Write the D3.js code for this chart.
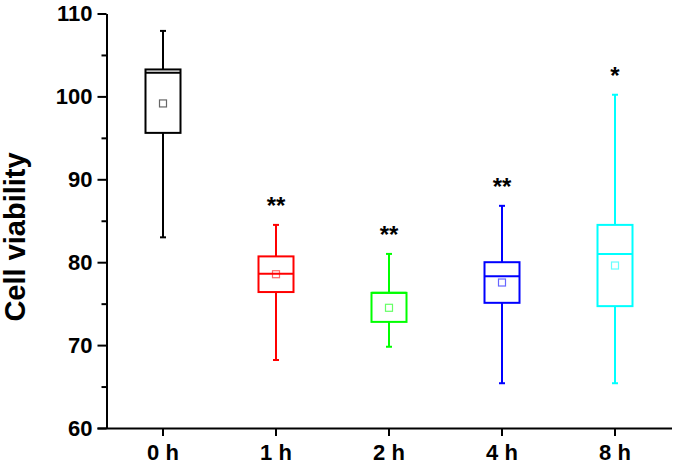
<!DOCTYPE html>
<html>
<head>
<meta charset="utf-8">
<script src="https://cdn.jsdelivr.net/npm/d3@7"></script>
<style>
  body { margin: 0; background: #fff; }
  text { font-family: "Liberation Sans", Arial, sans-serif; font-weight: bold; }
</style>
</head>
<body>
<div id="chart"></div>
<script>
// data
const groups = ['0 h', '1 h', '2 h', '4 h', '8 h'];
const whiskerLow = [83.0, 68.2, 69.8, 65.4, 65.4];
const q1 = [95.6, 76.4, 72.8, 75.1, 74.7];
const median = [102.85, 78.6, 76.3, 78.3, 81.0];
const q3 = [103.25, 80.7, 76.3, 80.0, 84.5];
const whiskerHigh = [107.9, 84.5, 81.0, 86.8, 100.2];
const means = [99.15, 78.55, 74.5, 77.55, 79.6];
const stars = ['', '**', '**', '**', '*'];
const colors = ['#000000', '#ff0000', '#00ff00', '#0000ff', '#00ffff'];
const yTicks = [60, 65, 70, 75, 80, 85, 90, 95, 100, 105, 110];

const margin = {top: 13.5, right: 3, bottom: 37, left: 106.5};
const width = 675 - margin.left - margin.right;
const height = 465 - margin.top - margin.bottom;

const svg = d3.select('#chart')
    .append('svg')
    .attr('width', 675)
    .attr('height', 465)
    .append('g')
    .attr('transform', 'translate(' + margin.left + ',' + margin.top + ')');

const xScale = d3.scaleBand()
    .domain(groups)
    .range([0, width - 0.5])
    .padding(0);

const yScale = d3.scaleLinear()
    .domain([60, 110])
    .range([height, 0]);

// y title
svg.append('text')
    .attr('transform', 'rotate(-90)')
    .attr('x', -(237 - margin.top))
    .attr('y', 25 - margin.left)
    .attr('text-anchor', 'middle')
    .attr('font-size', 29)
    .text('Cell viability');

// boxes
const boxData = groups.map((g, i) => ({
    g: g, lo: whiskerLow[i], q1: q1[i], med: median[i], q3: q3[i],
    hi: whiskerHigh[i], mean: means[i], star: stars[i], color: colors[i]
}));

const boxW = 35;
const capW = 6;
const box = svg.selectAll('.box')
    .data(boxData)
    .enter()
    .append('g')
    .attr('class', 'box')
    .attr('transform', d => 'translate(' + (xScale(d.g) + xScale.bandwidth() / 2) + ',0)');

// significance marks
box.append('text')
    .attr('text-anchor', 'middle')
    .attr('y', d => yScale(d.hi) - 10.5)
    .attr('font-size', 24)
    .text(d => d.star);

// whiskers
box.append('line')
    .attr('x1', 0).attr('x2', 0)
    .attr('y1', d => yScale(d.hi))
    .attr('y2', d => yScale(d.q3))
    .attr('stroke', d => d.color)
    .attr('stroke-width', 2);

box.append('line')
    .attr('x1', 0).attr('x2', 0)
    .attr('y1', d => yScale(d.q1))
    .attr('y2', d => yScale(d.lo))
    .attr('stroke', d => d.color)
    .attr('stroke-width', 2);

box.append('line')
    .attr('x1', -capW / 2).attr('x2', capW / 2)
    .attr('y1', d => yScale(d.hi)).attr('y2', d => yScale(d.hi))
    .attr('stroke', d => d.color)
    .attr('stroke-width', 2);

box.append('line')
    .attr('x1', -capW / 2).attr('x2', capW / 2)
    .attr('y1', d => yScale(d.lo)).attr('y2', d => yScale(d.lo))
    .attr('stroke', d => d.color)
    .attr('stroke-width', 2);

box.append('rect')
    .attr('x', -boxW / 2)
    .attr('width', boxW)
    .attr('y', d => yScale(d.q3))
    .attr('height', d => yScale(d.q1) - yScale(d.q3))
    .attr('fill', 'none')
    .attr('stroke', d => d.color)
    .attr('stroke-width', 2);

box.append('line')
    .attr('x1', -boxW / 2).attr('x2', boxW / 2)
    .attr('y1', d => yScale(d.med)).attr('y2', d => yScale(d.med))
    .attr('stroke', d => d.color)
    .attr('stroke-width', 2);

// mean marker
box.append('rect')
    .attr('x', -3.5)
    .attr('width', 7)
    .attr('y', d => yScale(d.mean) - 3.5)
    .attr('height', 7)
    .attr('fill', 'none')
    .attr('stroke', d => d.color)
    .attr('stroke-opacity', 0.6)
    .attr('stroke-width', 1.2);

// axes drawn last, on top
const yAxis = svg.append('g')
    .attr('class', 'y-axis')
    .call(d3.axisLeft(yScale)
        .tickValues(yTicks)
        .tickFormat(d => d % 10 === 0 ? d : '')
        .tickSize(9).tickPadding(5).tickSizeOuter(0));
yAxis.select('.domain').attr('stroke', '#000').attr('stroke-width', 2);
yAxis.selectAll('.tick line')
    .attr('x1', 0).attr('y1', 0).attr('y2', 0)
    .attr('x2', d => d % 10 === 0 ? -9 : -5)
    .attr('stroke', '#000').attr('stroke-width', 2);
yAxis.selectAll('text').attr('font-size', 22).attr('fill', '#000');

const xAxis = svg.append('g')
    .attr('class', 'x-axis')
    .attr('transform', 'translate(0,' + height + ')')
    .call(d3.axisBottom(xScale).tickSize(8).tickPadding(8).tickSizeOuter(0));
xAxis.select('.domain').attr('stroke', '#000').attr('stroke-width', 2).attr('d', 'M-9,0.5H' + width);
xAxis.selectAll('.tick line')
    .attr('x1', 0).attr('x2', 0).attr('y1', 0)
    .attr('stroke', '#000').attr('stroke-width', 2);
xAxis.selectAll('text').attr('font-size', 22).attr('fill', '#000');
</script>
</body>
</html>
